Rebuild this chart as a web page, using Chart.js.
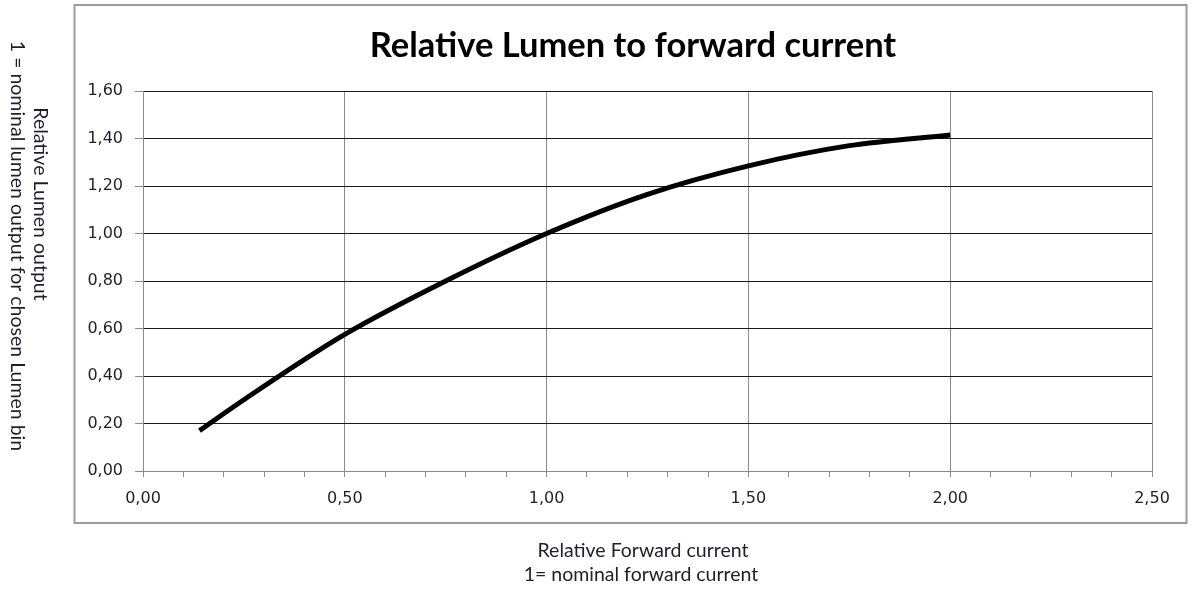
<!DOCTYPE html>
<html>
<head>
<meta charset="utf-8">
<script src="https://cdn.jsdelivr.net/npm/chart.js@4.4.1/dist/chart.umd.min.js"></script>
<style>
  html, body { margin: 0; padding: 0; background: #fff; }
  #wrap { width: 1197px; height: 589px; position: relative; }
</style>
</head>
<body>
<div id="wrap"><canvas id="c" width="1197" height="589"></canvas></div>
<script>
// Data
const currentX = [0.14, 0.25, 0.5, 0.75, 1.0, 1.25, 1.5, 1.75, 2.0]
const lumenY = [0.17, 0.30, 0.575, 0.80, 1.0, 1.165, 1.285, 1.37, 1.415]

const titleText = 'Relative Lumen to forward current'
const yTitle = ['Relative Lumen output', '1 = nominal lumen output for chosen Lumen bin']
const xTitle = ['Relative Forward current', '1= nominal forward current']

const GRID_DARK = '#1a1a1a'
const GRID_GREY = '#8c8c8c'
const TXT = '#1e1e2e'

const fmt = v => Number(v).toFixed(2).replace('.', ',')
const isMajor = v => Math.abs(v * 2 - Math.round(v * 2)) < 1e-6

// border + titles
const decor = {
  id: 'decor',
  beforeDraw(chart) {
    const ctx = chart.ctx
    ctx.save()
    ctx.fillStyle = '#fff'
    ctx.fillRect(0, 0, chart.width, chart.height)
    ctx.strokeStyle = '#9a9a9a'
    ctx.lineWidth = 2
    ctx.strokeRect(74.5, 5, 1112, 518)
    ctx.restore()
  },
  afterDraw(chart) {
    const ctx = chart.ctx
    ctx.save()
    ctx.fillStyle = '#000'
    ctx.textAlign = 'center'
    ctx.textBaseline = 'alphabetic'
    ctx.font = 'bold 34.5px Lato'
    ctx.fillText(titleText, 633, 57)

    ctx.textBaseline = 'middle'
    ctx.fillStyle = TXT
    ctx.font = '19.5px Lato'
    ctx.fillText(xTitle[0], 643, 551)
    ctx.fillText(xTitle[1], 641, 575)

    ctx.save()
    ctx.translate(40, 204)
    ctx.rotate(Math.PI / 2)
    ctx.fillText(yTitle[0], 0, 0)
    ctx.restore()
    ctx.save()
    ctx.translate(17, 246)
    ctx.rotate(Math.PI / 2)
    ctx.fillText(yTitle[1], 0, 0)
    ctx.restore()
    ctx.restore()
  }
}

new Chart(document.getElementById('c'), {
  type: 'line',
  data: {
    datasets: [{
      data: currentX.map((x, i) => ({ x, y: lumenY[i] })),
      borderColor: '#000',
      borderWidth: 5,
      pointRadius: 0,
      cubicInterpolationMode: 'monotone',
      fill: false,
    }]
  },
  options: {
    responsive: false,
    animation: false,
    devicePixelRatio: 1,
    layout: { padding: { top: 91, right: 45, bottom: 0, left: 0 } },
    plugins: { legend: { display: false }, tooltip: { enabled: false }, title: { display: false } },
    scales: {
      x: {
        type: 'linear',
        min: 0,
        max: 2.5,
        afterFit: s => { s.height = 118 },
        border: { color: GRID_GREY, width: 1 },
        grid: {
          color: c => isMajor(c.tick.value) ? GRID_GREY : 'rgba(0,0,0,0)',
          tickColor: GRID_GREY,
          tickLength: 6,
        },
        ticks: {
          stepSize: 0.1,
          autoSkip: false,
          maxRotation: 0,
          padding: 12,
          color: TXT,
          font: { family: 'DejaVu Sans', size: 16 },
          callback: v => isMajor(v) ? fmt(v) : '',
        },
      },
      y: {
        min: 0,
        max: 1.6,
        afterFit: s => { s.width = 143 },
        border: { color: GRID_GREY, width: 1 },
        grid: {
          color: c => c.tick.value === 0 ? GRID_GREY : GRID_DARK,
          tickColor: GRID_GREY,
          tickLength: 8,
        },
        ticks: {
          stepSize: 0.2,
          padding: 12,
          color: TXT,
          font: { family: 'DejaVu Sans', size: 16 },
          callback: v => fmt(v),
        },
      },
    },
  },
  plugins: [decor],
})
</script>
</body>
</html>
